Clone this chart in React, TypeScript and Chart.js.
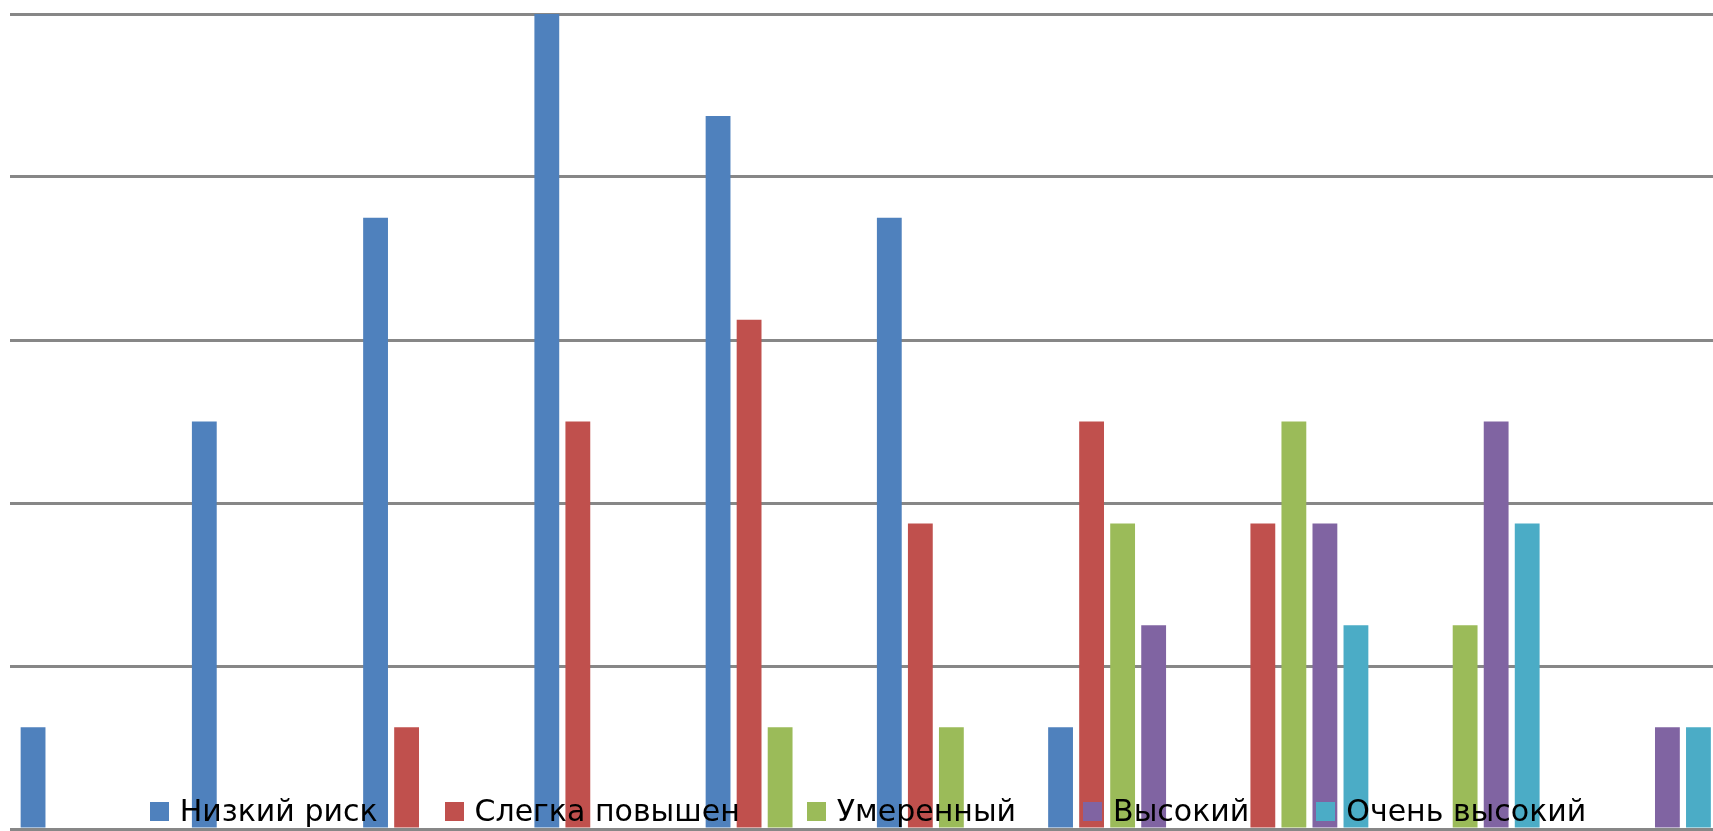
import React, { useEffect, useRef } from "react";
import { Chart, registerables } from "chart.js";

Chart.register(...registerables);

const categories = ["1", "2", "3", "4", "5", "6", "7", "8", "9", "10"];
const seriesNames = ["Низкий риск", "Слегка повышен", "Умеренный", "Высокий", "Очень высокий"];
const seriesColors = ["#4F81BD", "#C0504D", "#9BBB59", "#8064A2", "#4BACC6"];
const lowRisk = [1, 4, 6, 8, 7, 6, 1, 0, 0, 0];
const slightlyRaised = [0, 0, 1, 4, 5, 3, 4, 3, 0, 0];
const moderate = [0, 0, 0, 0, 1, 1, 3, 4, 2, 0];
const high = [0, 0, 0, 0, 0, 0, 2, 3, 4, 1];
const veryHigh = [0, 0, 0, 0, 0, 0, 0, 2, 3, 1];
const seriesValues = [lowRisk, slightlyRaised, moderate, high, veryHigh];
const yMax = 8;
const yStep = 1.6;

export default function App() {
  const canvasRef = useRef<HTMLCanvasElement | null>(null);

  useEffect(() => {
    const canvas = canvasRef.current;
    if (!canvas) return;
    const chart = new Chart(canvas, {
      type: "bar",
      data: {
        labels: categories,
        datasets: seriesNames.map((name, i) => ({
          label: name,
          data: seriesValues[i],
          backgroundColor: seriesColors[i],
          borderWidth: 0,
          categoryPercentage: 0.906,
          barPercentage: 0.8,
        })),
      },
      options: {
        animation: false,
        responsive: false,
        devicePixelRatio: 1,
        layout: { padding: { left: 9.5, right: 0, top: 14, bottom: 2 } },
        plugins: {
          legend: { display: false },
          tooltip: { enabled: false },
        },
        scales: {
          x: { display: false },
          y: {
            display: true,
            min: 0,
            max: yMax,
            ticks: { display: false, stepSize: yStep },
            border: { display: false },
            grid: { color: "#878787", lineWidth: 3, drawTicks: false },
          },
        },
      },
    });
    return () => chart.destroy();
  }, []);

  return (
    <div
      style={{
        position: "fixed",
        left: 0,
        top: 0,
        width: 1713,
        height: 831,
        overflow: "hidden",
        background: "#ffffff",
      }}
    >
      <canvas
        ref={canvasRef}
        width={1722}
        height={831}
        style={{ position: "absolute", left: 0, top: 0, width: 1722, height: 831 }}
      />
      <div
        style={{
          position: "absolute",
          left: 0,
          width: 1736,
          top: 791,
          display: "flex",
          justifyContent: "center",
          alignItems: "baseline",
          gap: 67,
          fontFamily: "'DejaVu Sans', sans-serif",
          fontSize: 30,
          lineHeight: "40px",
          color: "#000000",
          whiteSpace: "nowrap",
        }}
      >
        {seriesNames.map((name, i) => (
          <div key={name} style={{ display: "flex", alignItems: "baseline" }}>
            <span
              style={{
                display: "inline-block",
                width: 19,
                height: 19,
                background: seriesColors[i],
                marginRight: 11,
              }}
            />
            <span>{name}</span>
          </div>
        ))}
      </div>
    </div>
  );
}
